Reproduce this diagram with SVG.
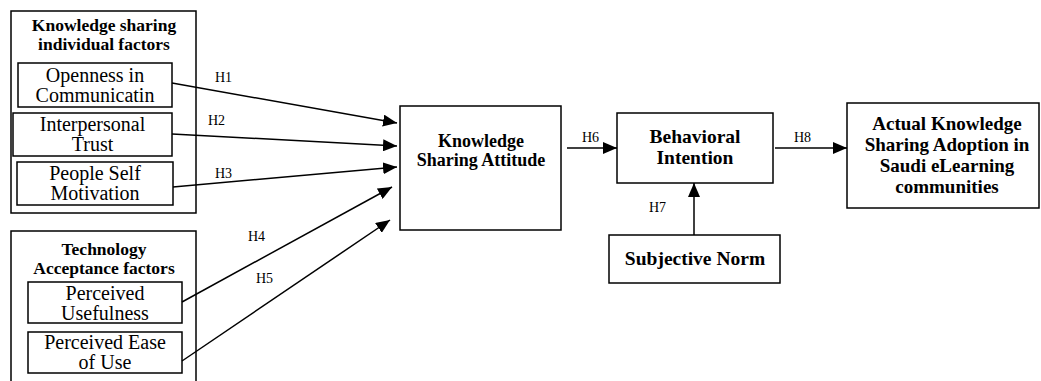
<svg xmlns="http://www.w3.org/2000/svg" width="1041" height="381" viewBox="0 0 1041 381">
<defs>
<style>
.box{fill:#fff;stroke:#000;stroke-width:1.5}
.grp{fill:none;stroke:#000;stroke-width:1.5}
.t{font-family:"Liberation Serif","Times New Roman",serif;fill:#000;text-anchor:middle}
.r{font-size:20px}
.b{font-weight:bold}
.h{font-family:"Liberation Serif","Times New Roman",serif;font-size:14px;fill:#000}
.ln{stroke:#000;stroke-width:1.5;fill:none;marker-end:url(#ah)}
</style>
<marker id="ah" viewBox="0 0 14 12" refX="14" refY="6" markerWidth="14" markerHeight="12" markerUnits="userSpaceOnUse" orient="auto">
<path d="M0,0 L14,6 L0,12 Z" fill="#000"/>
</marker>
</defs>
<rect width="1041" height="381" fill="#fff"/>

<g id="group-individual">
<rect class="grp" x="11" y="11" width="185" height="202"/>
<text class="t b" font-size="17.5" x="104" y="31">Knowledge sharing</text>
<text class="t b" font-size="17.5" x="104" y="50">individual factors</text>
</g>
<g id="openness">
<rect class="box" x="18" y="63" width="154" height="44"/>
<text class="t r" x="95" y="82">Openness in</text>
<text class="t r" x="95" y="102">Communicatin</text>
</g>
<g id="trust">
<rect class="box" x="13" y="113" width="159" height="43"/>
<text class="t r" x="92.5" y="131">Interpersonal</text>
<text class="t r" x="92.5" y="151">Trust</text>
</g>
<g id="motivation">
<rect class="box" x="17" y="162" width="156" height="43"/>
<text class="t r" x="95" y="180">People Self</text>
<text class="t r" x="95" y="200">Motivation</text>
</g>

<g id="group-technology">
<rect class="grp" x="11" y="231" width="185" height="170"/>
<text class="t b" font-size="17.5" x="104" y="255">Technology</text>
<text class="t b" font-size="17.5" x="104" y="274">Acceptance factors</text>
</g>
<g id="usefulness">
<rect class="box" x="28" y="282" width="154" height="41"/>
<text class="t r" x="105" y="300">Perceived</text>
<text class="t r" x="105" y="320">Usefulness</text>
</g>
<g id="ease">
<rect class="box" x="28" y="332" width="154" height="41"/>
<text class="t r" x="105" y="349">Perceived Ease</text>
<text class="t r" x="105" y="369">of Use</text>
</g>

<g id="attitude">
<rect class="box" x="400" y="106" width="161" height="124"/>
<text class="t b" font-size="18" x="481" y="147">Knowledge</text>
<text class="t b" font-size="18" x="481" y="166">Sharing Attitude</text>
</g>
<g id="intention">
<rect class="box" x="617" y="113" width="156" height="70"/>
<text class="t b" font-size="19.5" x="695" y="143">Behavioral</text>
<text class="t b" font-size="19.5" x="695" y="164">Intention</text>
</g>
<g id="norm">
<rect class="box" x="609" y="235" width="171" height="48"/>
<text class="t b" font-size="19.5" x="695" y="265">Subjective Norm</text>
</g>
<g id="adoption">
<rect class="box" x="847" y="103" width="192" height="105"/>
<text class="t b" font-size="19" x="947" y="130">Actual Knowledge</text>
<text class="t b" font-size="19" x="947" y="151">Sharing Adoption in</text>
<text class="t b" font-size="19" x="947" y="172">Saudi eLearning</text>
<text class="t b" font-size="19" x="947" y="193">communities</text>
</g>

<g id="connectors">
<line class="ln" x1="172" y1="83" x2="397" y2="123"/>
<line class="ln" x1="172" y1="134" x2="397" y2="146"/>
<line class="ln" x1="173" y1="187" x2="397" y2="167"/>
<line class="ln" x1="182" y1="302" x2="392" y2="187"/>
<line class="ln" x1="182" y1="361" x2="390" y2="220"/>
<line class="ln" x1="567" y1="148" x2="617" y2="148"/>
<line class="ln" x1="694" y1="235" x2="694" y2="183"/>
<line class="ln" x1="775" y1="148" x2="847" y2="148"/>
<text class="h" x="215" y="82">H1</text>
<text class="h" x="208" y="125">H2</text>
<text class="h" x="215" y="178">H3</text>
<text class="h" x="248" y="241">H4</text>
<text class="h" x="256" y="283">H5</text>
<text class="h" x="582" y="142">H6</text>
<text class="h" x="649" y="212">H7</text>
<text class="h" x="794" y="142">H8</text>
</g>
</svg>
